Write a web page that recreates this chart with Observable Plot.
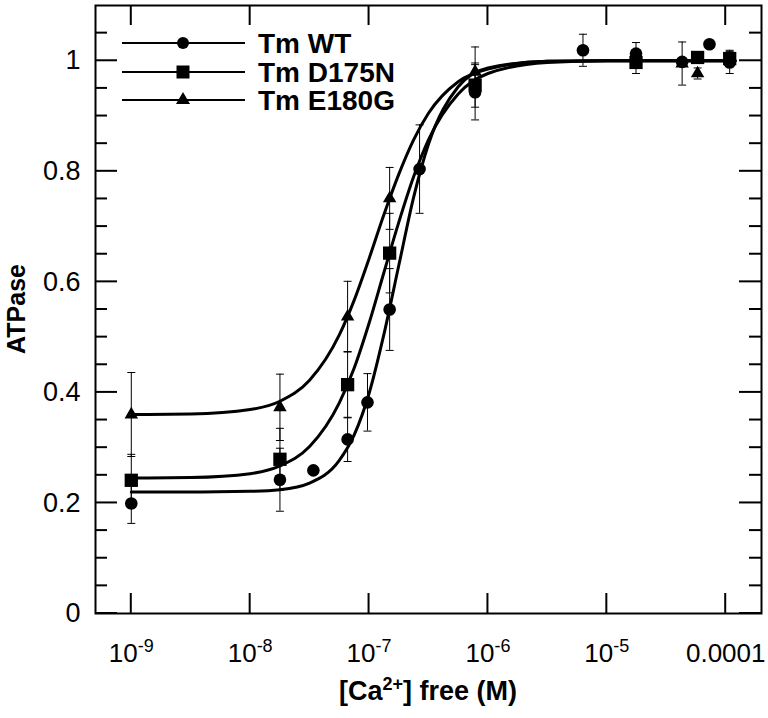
<!DOCTYPE html>
<html><head><meta charset="utf-8">
<script src="https://cdn.jsdelivr.net/npm/d3@7"></script>
<script src="https://cdn.jsdelivr.net/npm/@observablehq/plot@0.6"></script>
<style>
body{margin:0;background:#fff;}
#chart{position:relative;width:768px;height:718px;font-family:'Liberation Sans', Arial, Helvetica, sans-serif;}
#chart svg{background:#fff;color:#000;}
</style></head><body><div id="chart"></div>
<script>
// ---- data ----
const seriesNames = ["Tm WT", "Tm D175N", "Tm E180G"];
const seriesSymbols = ["circle", "square", "triangle"];

const wtConc = [1e-9, 1.78e-8, 3.4e-8, 6.6e-8, 9.7e-8, 1.49e-7, 2.66e-7, 7.8e-7, 6.3e-6, 1.76e-5, 4.3e-5, 7.3e-5, 1.08e-4];
const wtValue = [0.199, 0.242, 0.259, 0.315, 0.382, 0.55, 0.804, 0.943, 1.019, 1.013, 0.998, 1.03, 0.997];
const wtError = [0.036, 0.057, 0, 0.04, 0.052, 0.074, 0.08, 0.05, 0.029, 0.02, 0, 0, 0.02];

const d175nConc = [1e-9, 1.78e-8, 6.6e-8, 1.49e-7, 7.8e-7, 1.76e-5, 5.8e-5, 1.08e-4];
const d175nValue = [0.241, 0.279, 0.414, 0.652, 0.956, 0.997, 1.006, 1.004];
const d175nError = [0.047, 0.056, 0.06, 0.072, 0.04, 0.02, 0.01, 0.015];

const e180gConc = [1e-9, 1.78e-8, 6.6e-8, 1.49e-7, 7.8e-7, 4.3e-5, 5.8e-5];
const e180gValue = [0.36, 0.373, 0.537, 0.751, 0.98, 0.995, 0.977];
const e180gError = [0.076, 0.06, 0.064, 0.056, 0.045, 0.039, 0.01];

// fitted curves
const curveConc = [1e-9, 3.16e-9, 1e-8, 1.78e-8, 3.16e-8, 5.62e-8, 7.5e-8, 1e-7, 1.33e-7, 1.78e-7, 2.37e-7, 3.16e-7, 5.62e-7, 1e-6, 3.16e-6, 1e-5, 1.2e-4];
const wtCurve = [0.22, 0.22, 0.221, 0.224, 0.236, 0.277, 0.323, 0.398, 0.504, 0.630, 0.753, 0.849, 0.953, 0.987, 0.999, 1.0, 1.0];
const d175nCurve = [0.245, 0.246, 0.253, 0.267, 0.302, 0.381, 0.444, 0.525, 0.616, 0.708, 0.790, 0.857, 0.940, 0.977, 0.997, 1.0, 1.0];
const e180gCurve = [0.36, 0.361, 0.369, 0.384, 0.422, 0.504, 0.567, 0.642, 0.721, 0.795, 0.857, 0.905, 0.962, 0.985, 0.999, 1.0, 1.0];

const xTicks = [1e-9, 1e-8, 1e-7, 1e-6, 1e-5, 1e-4];
const xTickLabels = ["10|-9", "10|-8", "10|-7", "10|-6", "10|-5", "0.0001"];
const yMajor = [0, 0.2, 0.4, 0.6, 0.8, 1];
const yTickLabels = ["0", "0.2", "0.4", "0.6", "0.8", "1"];
const yMinor = [0.05, 0.1, 0.15, 0.25, 0.3, 0.35, 0.45, 0.5, 0.55, 0.65, 0.7, 0.75, 0.85, 0.9, 0.95, 1.05];
const xLabelParts = ["[Ca", "2+", "] free (M)"];
const yLabel = "ATPase";

// ---- build tables ----
const mk = (c, v, e) => c.map((x, i) => ({conc: x, v: v[i], err: e[i]}));
const wt = mk(wtConc, wtValue, wtError);
const d175n = mk(d175nConc, d175nValue, d175nError);
const e180g = mk(e180gConc, e180gValue, e180gError);
const allPts = [...wt, ...d175n, ...e180g].filter(d => d.err > 0);
const caps = allPts.flatMap(d => [{conc: d.conc, y: d.v + d.err}, {conc: d.conc, y: d.v - d.err}]);
const capSymbol = {draw(ctx, size) { const w = Math.sqrt(size / Math.PI); ctx.moveTo(-w, 0); ctx.lineTo(w, 0); }};

const font = "'Liberation Sans', Arial, Helvetica, sans-serif";

const plot = Plot.plot({
  width: 768, height: 718,
  marginLeft: 95, marginRight: 7, marginTop: 5, marginBottom: 105,
  x: {type: "log", domain: [5e-10, 2e-4], label: null},
  y: {domain: [0, 1.1], label: null},
  marks: [
    Plot.frame({stroke: "black", strokeWidth: 2, fill: "none"}),
    Plot.axisX(xTicks, {anchor: "bottom", tickSize: 0, tickPadding: 30, fontSize: 26, fontFamily: font, tickFormat: d => xTickLabels[xTicks.indexOf(d)], label: null}),
    Plot.axisY(yMajor, {anchor: "left", tickSize: 0, tickPadding: 15, fontSize: 27, fontFamily: font, tickFormat: d => yTickLabels[yMajor.indexOf(d)], label: null}),
    Plot.ruleX(allPts, {x: "conc", y1: d => d.v - d.err, y2: d => d.v + d.err, stroke: "black", strokeWidth: 1}),
    Plot.dot(caps, {x: "conc", y: "y", symbol: capSymbol, r: 4, stroke: "black", strokeWidth: 1, fill: "none"}),
    Plot.line(curveConc, {x: d => d, y: (d, i) => wtCurve[i], curve: "monotone-x", stroke: "black", strokeWidth: 3}),
    Plot.line(curveConc, {x: d => d, y: (d, i) => d175nCurve[i], curve: "monotone-x", stroke: "black", strokeWidth: 3}),
    Plot.line(curveConc, {x: d => d, y: (d, i) => e180gCurve[i], curve: "monotone-x", stroke: "black", strokeWidth: 3}),
    Plot.dot(e180g, {x: "conc", y: "v", symbol: "triangle", r: 5, fill: "black", stroke: "none"}),
    Plot.dot(d175n, {x: "conc", y: "v", symbol: "square", r: 7.5, fill: "black", stroke: "none"}),
    Plot.dot(wt, {x: "conc", y: "v", symbol: "circle", r: 6.3, fill: "black", stroke: "none"})
  ]
});
document.getElementById("chart").appendChild(plot);

const svg = d3.select(plot);

// inward ticks on all four sides, positioned with the plot's own scales
const sx = plot.scale("x"), sy = plot.scale("y");
const fx = sx.apply ? v => sx.apply(v) : d3.scaleLog(sx.domain, sx.range);
const fy = sy.apply ? v => sy.apply(v) : d3.scaleLinear(sy.domain, sy.range);
const frameLeft = Math.min(...sx.range), frameRight = Math.max(...sx.range);
const frameTop = Math.min(...sy.range), frameBottom = Math.max(...sy.range);
const tg = svg.append("g").attr("stroke", "black").attr("stroke-width", 2);
const seg = (x1, y1, x2, y2) => tg.append("line").attr("x1", x1).attr("y1", y1).attr("x2", x2).attr("y2", y2);
xTicks.forEach(v => { const px = fx(v); seg(px, frameBottom, px, frameBottom - 20); seg(px, frameTop, px, frameTop + 20); });
yMajor.forEach(v => { const py = fy(v); seg(frameLeft, py, frameLeft + 22, py); seg(frameRight, py, frameRight - 22, py); });
yMinor.forEach(v => { const py = fy(v); seg(frameLeft, py, frameLeft + 12, py); seg(frameRight, py, frameRight - 12, py); });

// superscript tick labels
svg.selectAll('[aria-label="x-axis tick label"] text').each(function() {
  const t = this.textContent;
  if (t.includes("|")) {
    const [base, exp] = t.split("|");
    const sel = d3.select(this);
    sel.text(null);
    sel.append("tspan").text(base);
    sel.append("tspan").attr("dy", "-10").attr("font-size", 18).text(exp);
  }
});

// axis titles
const xt = svg.append("text")
  .attr("x", 428).attr("y", 700).attr("text-anchor", "middle")
  .attr("font-family", font).attr("font-size", 27).attr("font-weight", "bold");
xt.append("tspan").text(xLabelParts[0]);
xt.append("tspan").attr("dy", -10).attr("font-size", 18).text(xLabelParts[1]);
xt.append("tspan").attr("dy", 10).text(xLabelParts[2]);

svg.append("text")
  .attr("transform", "translate(25,309) rotate(-90)")
  .attr("text-anchor", "middle")
  .attr("font-family", font).attr("font-size", 25).attr("font-weight", "bold")
  .text(yLabel);

// legend
const lg = svg.append("g");
const rowY = [43, 72, 100];
const symSize = [Math.PI * 6 * 6, 13 * 13, Math.PI * 5.2 * 5.2];
seriesNames.forEach((name, i) => {
  lg.append("line").attr("x1", 122).attr("x2", 245).attr("y1", rowY[i]).attr("y2", rowY[i])
    .attr("stroke", "black").attr("stroke-width", 2);
  const type = {circle: d3.symbolCircle, square: d3.symbolSquare, triangle: d3.symbolTriangle}[seriesSymbols[i]];
  lg.append("path").attr("d", d3.symbol(type, symSize[i])()).attr("transform", `translate(183,${rowY[i]})`).attr("fill", "black");
  lg.append("text").attr("x", 258).attr("y", rowY[i] + 10).attr("text-anchor", "start")
    .attr("font-family", font).attr("font-size", 28).attr("font-weight", "bold").text(name);
});
</script></body></html>
